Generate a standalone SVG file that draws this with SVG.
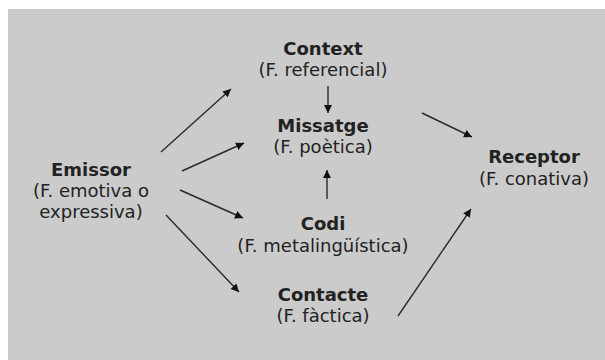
<svg xmlns="http://www.w3.org/2000/svg" width="605" height="360" viewBox="0 0 605 360">
  <defs>
    <style>
      text { font-family: "DejaVu Sans", "Open Sans", "Liberation Sans", sans-serif; font-size: 18px; fill: #222; text-anchor: middle; }
      .title { font-weight: 700; }
      .edge { stroke: #2a2a2a; stroke-width: 1.4; fill: none; marker-end: url(#arrow); }
    </style>
    <marker id="arrow" markerUnits="userSpaceOnUse" markerWidth="10" markerHeight="10" refX="8" refY="4" orient="auto">
      <path d="M0,0 L8,4 L0,8 Z" fill="#111"/>
    </marker>
  </defs>

  <!-- panel -->
  <rect x="8" y="9" width="597" height="351" fill="#cbcbcb"/>

  <!-- connectors -->
  <g id="connectors">
    <line class="edge" x1="161" y1="152" x2="231" y2="89"/>
    <line class="edge" x1="182" y1="171" x2="244" y2="143"/>
    <line class="edge" x1="328" y1="86" x2="328" y2="113"/>
    <line class="edge" x1="327" y1="199" x2="327" y2="170"/>
    <line class="edge" x1="180" y1="190" x2="243" y2="218"/>
    <line class="edge" x1="166" y1="215" x2="239" y2="292"/>
    <line class="edge" x1="422" y1="113" x2="472" y2="137"/>
    <line class="edge" x1="398" y1="316" x2="471" y2="209"/>
  </g>

  <g id="context">
    <text class="title" x="323" y="55">Context</text>
    <text x="323" y="76">(F. referencial)</text>
  </g>
  <g id="missatge">
    <text class="title" x="323" y="132">Missatge</text>
    <text x="323" y="153">(F. poètica)</text>
  </g>
  <g id="emissor">
    <text class="title" x="91" y="176">Emissor</text>
    <text x="91" y="197">(F. emotiva o</text>
    <text x="91" y="218">expressiva)</text>
  </g>
  <g id="receptor">
    <text class="title" x="534" y="163">Receptor</text>
    <text x="534" y="185">(F. conativa)</text>
  </g>
  <g id="codi">
    <text class="title" x="323" y="230">Codi</text>
    <text x="323" y="252">(F. metalingüística)</text>
  </g>
  <g id="contacte">
    <text class="title" x="323" y="301">Contacte</text>
    <text x="323" y="322">(F. fàctica)</text>
  </g>
</svg>
